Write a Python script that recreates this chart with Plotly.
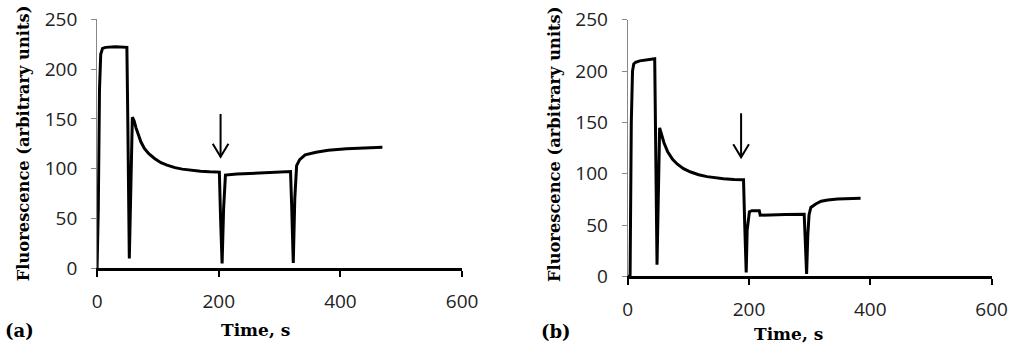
import plotly.graph_objects as go

# ---------------- data ----------------
time_a = [0, 2, 4, 6, 9, 14, 30, 49, 50.5, 53, 58, 61, 64, 68, 72, 78, 85, 95, 105, 115,
          128, 140, 155, 170, 185, 201, 203, 205.5, 208, 211, 230, 260, 290, 318, 320,
          322.5, 325, 328, 333, 342, 360, 380, 410, 440, 469]
fluor_a = [0, 60, 180, 215, 221, 222, 222.5, 222, 150, 9.6, 151.7, 148, 141, 133, 127, 120,
           115, 110, 106, 103.5, 101, 99.5, 98.2, 97.3, 96.8, 96.5, 50, 4.5, 60, 93.5, 94.5,
           95.5, 96.3, 97, 60, 5, 70, 103, 109, 113.8, 116.5, 118.5, 120, 121, 121.5]

time_b = [0, 4, 6, 8, 10, 13, 20, 30, 44.6, 48.4, 52.7, 56, 60, 66, 74, 82, 92, 104, 117,
          131, 145, 158, 175, 191, 193, 195.4, 197, 200.7, 205, 217, 218.5, 225, 260, 291,
          293, 295, 297, 299, 302, 310, 319, 330, 346, 365, 384]
fluor_b = [0, 0, 150, 200, 207, 208.5, 210, 211, 212, 11.4, 144.7, 138, 130, 121.3, 114,
           109.3, 105, 101.7, 99, 97.2, 96, 95.1, 94.5, 94.2, 50, 3.9, 45, 63, 64, 64, 59.6,
           59.8, 60.2, 60.5, 30, 2.4, 40, 60, 67.1, 70.5, 73.2, 74.5, 75.3, 76, 76.2]

# arrows: x position, top y, tip y
arrow_a = (203, 155, 112)
arrow_b = (187, 159, 116)

x_ticks = [0, 200, 400, 600]
y_ticks = [0, 50, 100, 150, 200, 250]

W, H = 1024, 353
dom_a = dict(x=[94 / W, 466.7 / W], y=[(H - 275.3) / H, (H - 7) / H])
dom_b = dict(x=[635.7 / W, 1007.3 / W], y=[(H - 284.3) / H, (H - 7.3) / H])

fig = go.Figure()

line_style = dict(color="black", width=3)
fig.add_trace(go.Scatter(x=time_a, y=fluor_a, mode="lines", line=line_style,
                         xaxis="x", yaxis="y", showlegend=False, hoverinfo="skip"))
fig.add_trace(go.Scatter(x=time_b, y=fluor_b, mode="lines", line=line_style,
                         xaxis="x2", yaxis="y2", showlegend=False, hoverinfo="skip"))


def add_arrow(arrow, xa, ya, dom):
    x0, ytop, ytip = arrow
    px_w = (dom["x"][1] - dom["x"][0]) * W / 600.0
    px_h = (dom["y"][1] - dom["y"][0]) * H / 250.0
    dx = 8 / px_w
    dy = 14 / px_h
    fig.add_trace(go.Scatter(x=[x0, x0, None, x0 - dx, x0, x0 + dx],
                             y=[ytop, ytip, None, ytip + dy, ytip, ytip + dy],
                             mode="lines", line=dict(color="black", width=2),
                             xaxis=xa, yaxis=ya, showlegend=False, hoverinfo="skip"))


add_arrow(arrow_a, "x", "y", dom_a)
add_arrow(arrow_b, "x2", "y2", dom_b)

tick_font = dict(family="Open Sans", size=19, color="#222222")
xaxis_common = dict(range=[0, 600.05], tickvals=x_ticks, showgrid=False, zeroline=False,
                    showline=True, linecolor="black", linewidth=2.5, ticks="outside",
                    ticklen=6, tickwidth=2, tickcolor="black", tickfont=tick_font,
                    ticklabelstandoff=8, ticklabeloverflow="allow", fixedrange=True)
yaxis_common = dict(range=[0, 250.05], tickvals=y_ticks, showgrid=False, zeroline=False,
                    showline=True, linecolor="#888888", linewidth=1, ticks="outside",
                    ticklen=5, tickwidth=1, tickcolor="#888888", tickfont=tick_font,
                    ticklabelstandoff=10, ticklabeloverflow="allow", fixedrange=True)

fig.update_layout(
    width=W, height=H,
    margin=dict(l=0, r=0, t=0, b=0),
    paper_bgcolor="white", plot_bgcolor="white",
    xaxis=dict(domain=dom_a["x"], anchor="y", **xaxis_common),
    yaxis=dict(domain=dom_a["y"], anchor="x", **yaxis_common),
    xaxis2=dict(domain=dom_b["x"], anchor="y2", **xaxis_common),
    yaxis2=dict(domain=dom_b["y"], anchor="x2", **yaxis_common),
)


def paper_text(text, px, py, angle=0, size=15):
    fig.add_annotation(text="<b>" + text + "</b>", x=px / W, y=(H - py) / H,
                       xref="paper", yref="paper", showarrow=False, textangle=angle,
                       xanchor="center", yanchor="middle",
                       font=dict(family="DejaVu Serif", size=size, color="black"))


paper_text("Fluorescence (arbitrary units)", 19, 141, angle=-90, size=16.3)
paper_text("Fluorescence (arbitrary units)", 561, 141, angle=-90, size=16.3)
paper_text("Time, s", 256, 342, size=17)
paper_text("Time, s", 800, 346, size=17)
paper_text("(a)", 15, 343, size=18)
paper_text("(b)", 563, 344, size=18)

fig.write_html("out.html")
